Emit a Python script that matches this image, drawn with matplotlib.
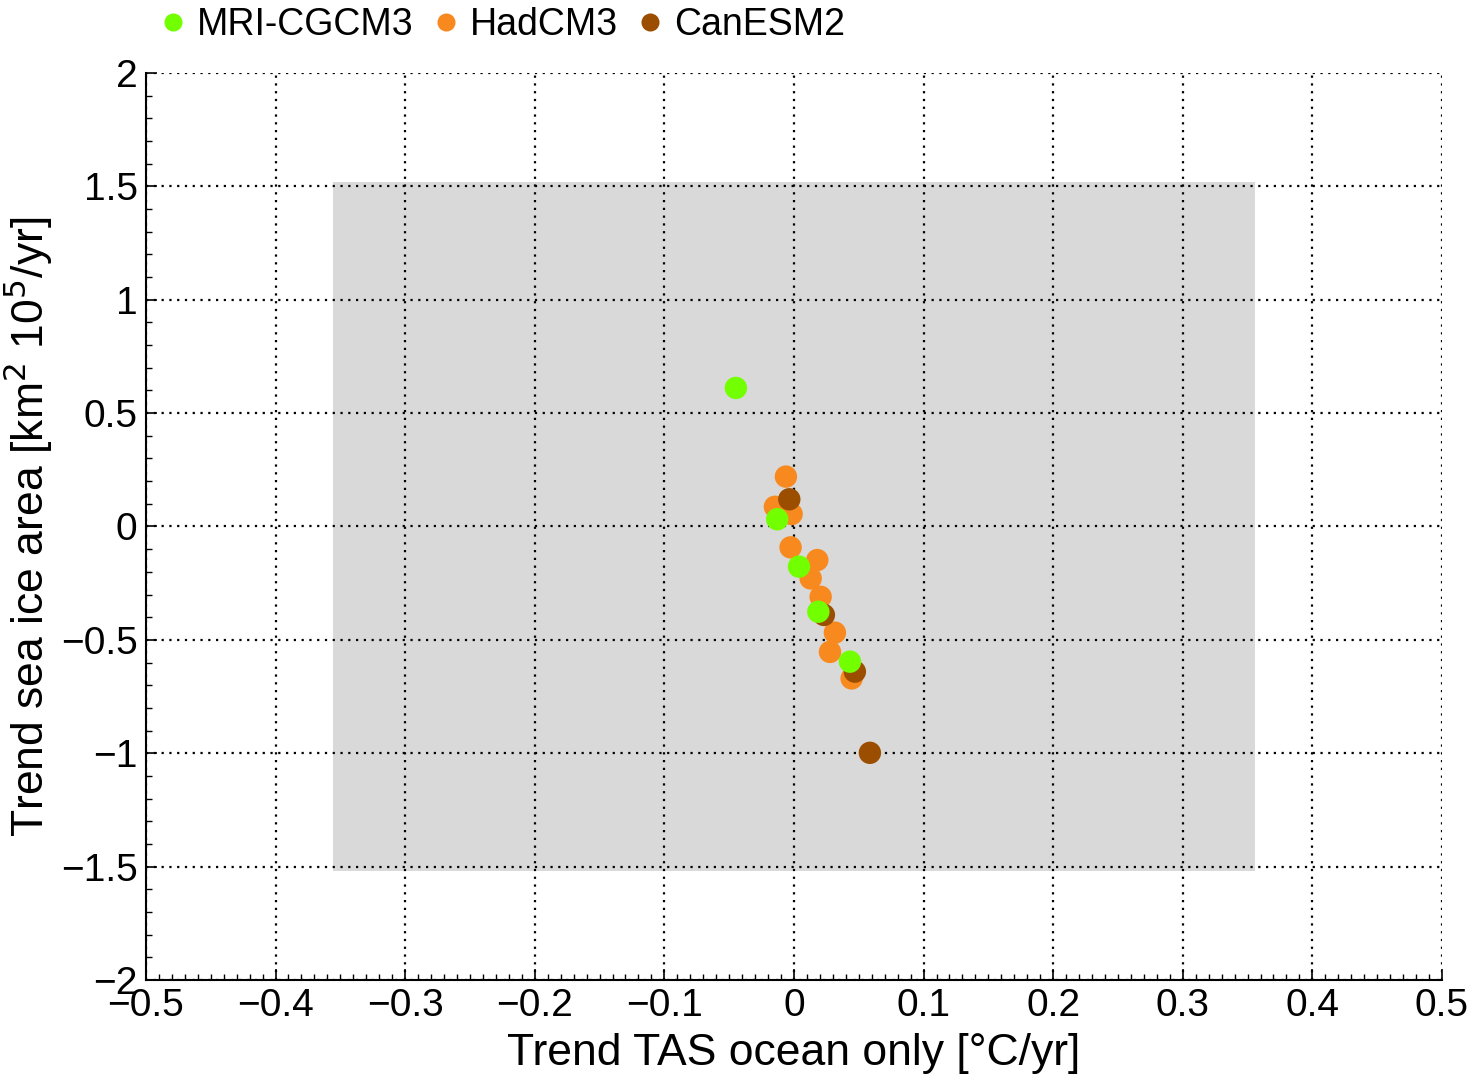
import numpy as np
import matplotlib.pyplot as plt
from matplotlib.lines import Line2D
from matplotlib.ticker import MultipleLocator

plt.rcParams['font.family'] = ['Liberation Sans Narrow', 'Liberation Sans', 'DejaVu Sans']

# trends per model run
mri_x = [-0.0448, -0.0129, 0.0039, 0.0188, 0.0432]
mri_y = [0.611, 0.032, -0.177, -0.376, -0.596]

had_x = [-0.0062, -0.0147, -0.0018, -0.0026, 0.0180, 0.0129, 0.0206, 0.0316, 0.0278, 0.0445]
had_y = [0.220, 0.087, 0.055, -0.092, -0.148, -0.229, -0.310, -0.468, -0.553, -0.670]

can_x = [-0.0036, 0.0231, 0.0470, 0.0586]
can_y = [0.120, -0.390, -0.640, -0.998]

# observed range (grey box)
box_x = [-0.356, 0.356]
box_y = [-1.52, 1.52]

c_mri = '#72ff00'
c_had = '#f7891f'
c_can = '#9c4e00'

fig = plt.figure(figsize=(14.8, 10.84), dpi=100)
ax = fig.add_axes([0.0986, 0.0959, 0.8757, 0.8368])

ax.fill_between(box_x, box_y[0], box_y[1], facecolor='#d9d9d9', edgecolor='none', zorder=0)

ax.scatter(had_x, had_y, s=260, color=c_had, edgecolors='none', zorder=3)
ax.scatter(can_x, can_y, s=260, color=c_can, edgecolors='none', zorder=4)
ax.scatter(mri_x, mri_y, s=260, color=c_mri, edgecolors='none', zorder=5)

ax.set_xlim(-0.5, 0.5)
ax.set_ylim(-2, 2)
ax.xaxis.set_minor_locator(MultipleLocator(0.01))
ax.yaxis.set_minor_locator(MultipleLocator(0.1))
xt = np.arange(-0.5, 0.51, 0.1)
ax.set_xticks(xt)
ax.set_xticklabels(['\u22120.5', '\u22120.4', '\u22120.3', '\u22120.2', '\u22120.1', '0',
                    '0.1', '0.2', '0.3', '0.4', '0.5'])
yt = np.arange(-2, 2.01, 0.5)
ax.set_yticks(yt)
ax.set_yticklabels(['\u22122', '\u22121.5', '\u22121', '\u22120.5', '0', '0.5', '1', '1.5', '2'])

ax.grid(True, which='major', color='black', linestyle=(0, (1, 2.5)), linewidth=1.6, zorder=1)
ax.set_axisbelow(True)
for s in ['top', 'right']:
    ax.spines[s].set_visible(False)
for s in ['left', 'bottom']:
    ax.spines[s].set_linewidth(1.5)
ax.tick_params(which='major', direction='in', length=8, width=1.2, labelsize=28, pad=6)
ax.tick_params(which='minor', direction='in', length=4, width=1)

ax.set_xlabel('Trend TAS ocean only [\u00b0C/yr]', fontsize=32, labelpad=6)
ax.set_ylabel('Trend sea ice area [km$^2$ 10$^5$/yr]', fontsize=32, labelpad=4)

handles = [Line2D([], [], marker='o', linestyle='none', markersize=13, color=c, markeredgewidth=0)
           for c in (c_mri, c_had, c_can)]
fig.legend(handles, ['MRI-CGCM3', 'HadCM3', 'CanESM2'], loc='upper left',
           bbox_to_anchor=(0.08, 1.025), ncol=3, frameon=False, fontsize=27,
           handletextpad=0.1, columnspacing=0.3, handlelength=1.1)

fig.savefig('out.png', dpi=100)
